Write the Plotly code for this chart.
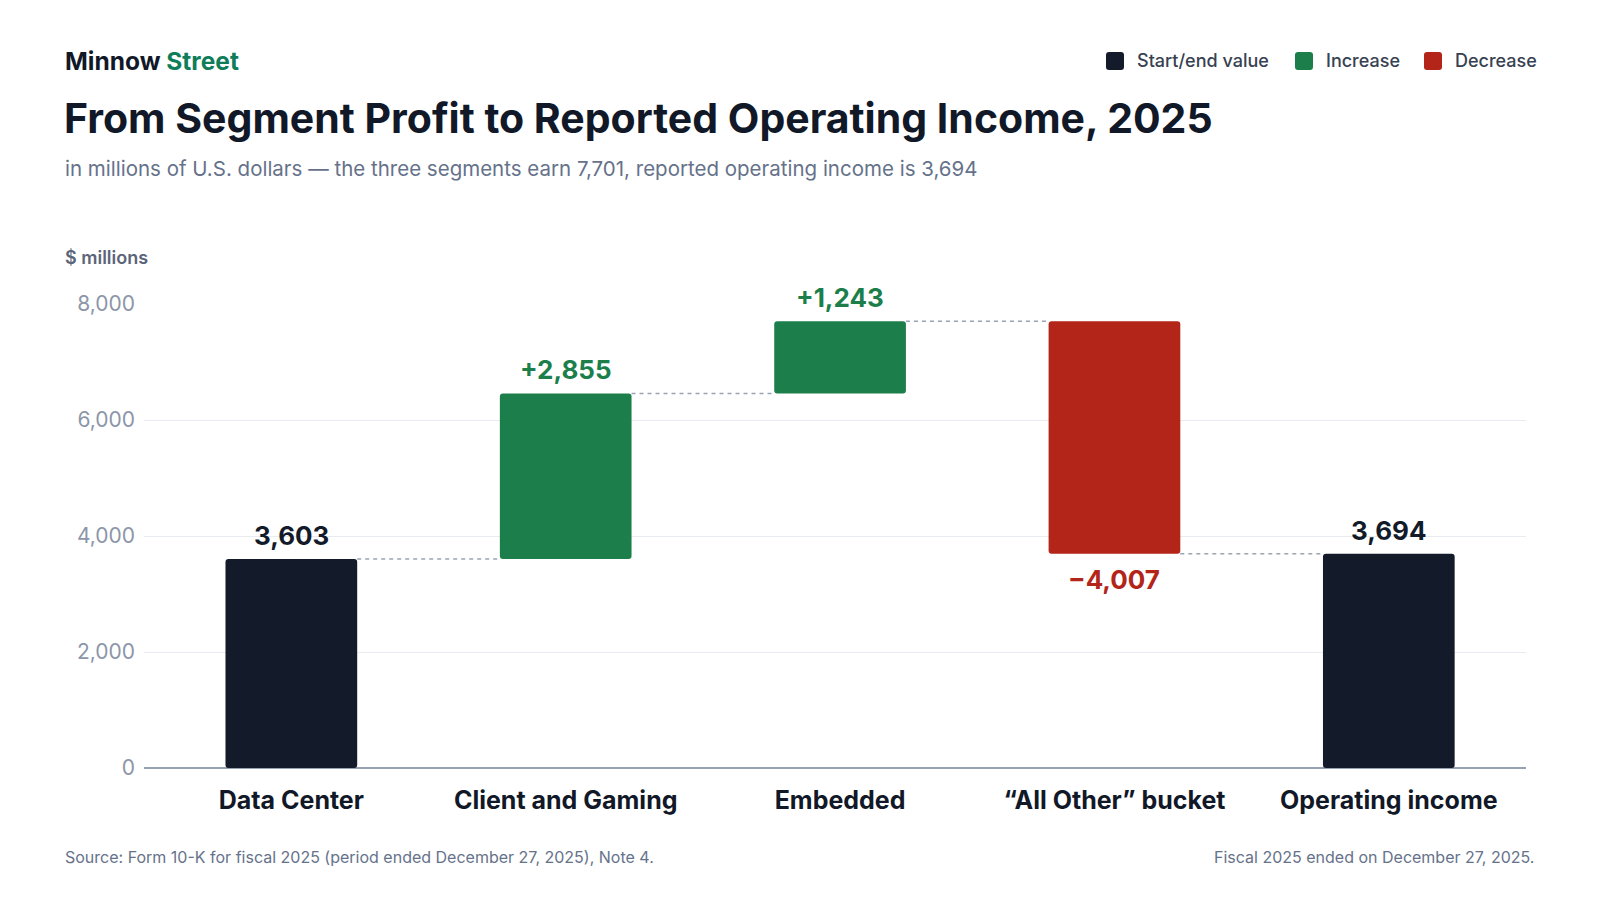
import plotly.graph_objects as go

# data
categories = ["Data Center", "Client and Gaming", "Embedded", "\u201cAll Other\u201d bucket", "Operating income"]
values = [3603, 2855, 1243, -4007, 3694]
kinds = ["total", "increase", "increase", "decrease", "total"]
y_ticks = [0, 2000, 4000, 6000, 8000]

names = {"total": "Start/end value", "increase": "Increase", "decrease": "Decrease"}
colors = {"total": "#131a2a", "increase": "#1c7f4b", "decrease": "#b32419"}

# page geometry (pixels)
FW, FH = 1600, 900
L, R, T, B = 136, 82, 296, 140
W, H = FW - L - R, FH - T - B


def px(x):
    return (x - L) / W


def py(y):
    return (FH - B - y) / H


def rounded_square(x0, y0, size, r):
    # path in paper coords, built from pixel corners
    x1, y1 = x0 + size, y0 + size
    pts = [
        ("M", x0 + r, y0), ("L", x1 - r, y0), ("Q", x1, y0, x1, y0 + r),
        ("L", x1, y1 - r), ("Q", x1, y1, x1 - r, y1), ("L", x0 + r, y1),
        ("Q", x0, y1, x0, y1 - r), ("L", x0, y0 + r), ("Q", x0, y0, x0 + r, y0),
    ]
    out = []
    for p in pts:
        cmd, coords = p[0], p[1:]
        xy = []
        for j in range(0, len(coords), 2):
            xy.append(f"{px(coords[j]):.5f},{py(coords[j + 1]):.5f}")
        out.append(cmd + " ".join(xy))
    return " ".join(out) + " Z"


# running totals for the floating bars
bases, heights, levels = [], [], []
running = 0
for v, k in zip(values, kinds):
    if k == "total":
        bases.append(0)
        heights.append(v)
        running = v
    elif k == "increase":
        bases.append(running)
        heights.append(v)
        running += v
    else:
        bases.append(running + v)
        heights.append(-v)
        running += v
    levels.append(running)

BW = 0.48
fig = go.Figure()
for k in ["total", "increase", "decrease"]:
    idx = [i for i, kk in enumerate(kinds) if kk == k]
    fig.add_trace(go.Bar(
        x=idx, y=[heights[i] for i in idx], base=[bases[i] for i in idx],
        name=names[k], width=BW, marker=dict(color=colors[k], cornerradius=3, line=dict(width=0)),
        hoverinfo="skip", cliponaxis=False, showlegend=False))

# dashed connectors
for i in range(len(values) - 1):
    fig.add_shape(type="line", xref="x", yref="y", x0=i + BW / 2, x1=i + 1 - BW / 2,
                  y0=levels[i], y1=levels[i], line=dict(color="#9ba3b3", width=1.5, dash="4px,4px"))

# value labels
for i, (v, k) in enumerate(zip(values, kinds)):
    if k == "total":
        txt = f"{v:,}"
    elif k == "increase":
        txt = f"+{v:,}"
    else:
        txt = f"\u2212{abs(v):,}"
    if k == "decrease":
        fig.add_annotation(x=i, y=bases[i], text=txt, showarrow=False, yanchor="top", yshift=-8,
                           font=dict(family="Inter", size=26, color=colors[k], weight=700))
    else:
        fig.add_annotation(x=i, y=bases[i] + heights[i], text=txt, showarrow=False, yanchor="bottom", yshift=6,
                           font=dict(family="Inter", size=26, color=colors[k], weight=700))

# legend (top right)
legend_items = [("total", 1098, 1127), ("increase", 1287, 1316), ("decrease", 1416, 1445)]
for k, sx, tx in legend_items:
    fig.add_shape(type="path", xref="paper", yref="paper", path=rounded_square(sx, 44, 18, 3),
                  fillcolor=colors[k], line=dict(width=0))
    fig.add_annotation(xref="paper", yref="paper", x=px(tx), y=py(53), xanchor="left", yanchor="middle",
                       text=names[k], showarrow=False,
                       font=dict(family="Inter", size=18, color="#374151", weight=500))

# header / footer text
fig.add_annotation(xref="paper", yref="paper", x=px(55), y=py(53), xanchor="left", yanchor="middle",
                   text="Minnow <span style='color:#0f7d5a'>Street</span>", showarrow=False,
                   font=dict(family="Inter", size=24.5, color="#111827", weight=700))
fig.add_annotation(xref="paper", yref="paper", x=px(54), y=py(110), xanchor="left", yanchor="middle",
                   text="From Segment Profit to Reported Operating Income, 2025", showarrow=False,
                   font=dict(family="Inter", size=41, color="#111827", weight=700))
fig.add_annotation(xref="paper", yref="paper", x=px(55), y=py(160), xanchor="left", yanchor="middle",
                   text="in millions of U.S. dollars \u2014 the three segments earn 7,701, reported operating income is 3,694",
                   showarrow=False, font=dict(family="Inter", size=20.5, color="#66728a"))
fig.add_annotation(xref="paper", yref="paper", x=px(55), y=py(249), xanchor="left", yanchor="middle",
                   text="$ millions", showarrow=False,
                   font=dict(family="Inter", size=18, color="#5b6478", weight=600))
fig.add_annotation(xref="paper", yref="paper", x=px(55), y=py(849), xanchor="left", yanchor="middle",
                   text="Source: Form 10-K for fiscal 2025 (period ended December 27, 2025), Note 4.",
                   showarrow=False, font=dict(family="Inter", size=16, color="#66728a"))
fig.add_annotation(xref="paper", yref="paper", x=px(1528), y=py(849), xanchor="right", yanchor="middle",
                   text="Fiscal 2025 ended on December 27, 2025.",
                   showarrow=False, font=dict(family="Inter", size=16, color="#66728a"))

fig.update_layout(
    width=FW, height=FH,
    margin=dict(l=L, r=R, t=T, b=B, autoexpand=False),
    paper_bgcolor="white", plot_bgcolor="white",
    font=dict(family="Inter"),
    barmode="overlay",
    showlegend=False,
    xaxis=dict(range=[-0.537, 4.5], tickmode="array", tickvals=list(range(len(categories))),
               ticktext=categories, showgrid=False, zeroline=False, showline=False, ticks="",
               ticklabelstandoff=15,
               tickfont=dict(family="Inter", size=25, color="#111827", weight=700), fixedrange=True),
    yaxis=dict(range=[0, 8000], tickmode="array", tickvals=y_ticks,
               ticktext=[f"{t:,}" for t in y_ticks], showgrid=True, gridcolor="#e8ebf0", gridwidth=1,
               zeroline=True, zerolinecolor="#98a1b3", zerolinewidth=2, ticks="", ticklabelstandoff=8,
               tickfont=dict(family="Inter", size=21, color="#8c96a8"), fixedrange=True),
)

fig.write_html("out.html")
